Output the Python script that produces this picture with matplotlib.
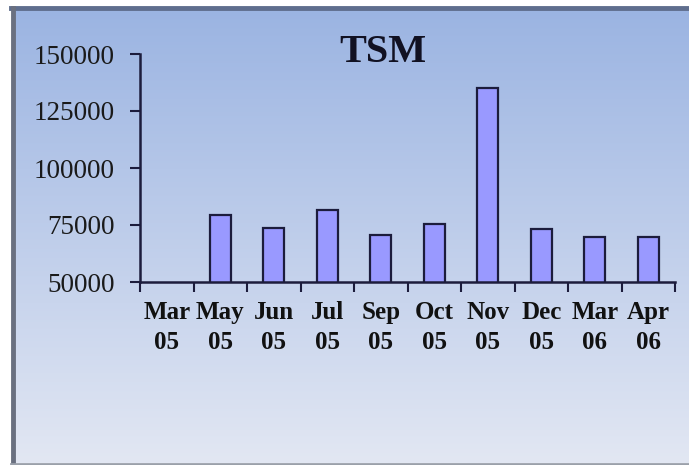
import matplotlib.pyplot as plt
import numpy as np

months = ["Mar\n05", "May\n05", "Jun\n05", "Jul\n05", "Sep\n05",
          "Oct\n05", "Nov\n05", "Dec\n05", "Mar\n06", "Apr\n06"]
values = [np.nan, 79400, 73500, 81600, 70600, 75300, 135000, 73200, 69900, 69900]
yticks = [50000, 75000, 100000, 125000, 150000]

plt.rcParams['font.family'] = ['Liberation Serif', 'DejaVu Serif']

fig = plt.figure(figsize=(6.89, 4.65), dpi=100, facecolor='white')

# gradient panel behind the chart
bg = fig.add_axes([15/689, 2/465, 674/689, 453/465])
top = np.array([155, 180, 226]) / 255
bot = np.array([226, 231, 243]) / 255
t = np.linspace(0, 1, 256)[:, None]
grad = top * (1 - t) + bot * t
bg.imshow(grad[:, None, :], aspect='auto', extent=[0, 1, 0, 1])
bg.set_axis_off()

# panel borders
fig.add_artist(plt.Line2D([11/689, 1], [1 - 8/465, 1 - 8/465], color='#5f6e8e', lw=3.5))
fig.add_artist(plt.Line2D([13/689, 13/689], [1/465, 1 - 8/465], color='#6a7080', lw=3.5))
fig.add_artist(plt.Line2D([11/689, 1], [1.5/465, 1.5/465], color='#9aa0aa', lw=2))

ax = fig.add_axes([140/689, 1 - 282/465, 535/689, 228/465])
ax.patch.set_alpha(0)
x = np.arange(len(months))
ax.bar(x, values, width=0.4, color='#9999ff', edgecolor='#1c1c3c', linewidth=1.6)

ax.set_xlim(-0.5, len(months) - 0.5)
ax.set_ylim(50000, 150000)
ax.set_yticks(yticks)
ax.set_yticklabels([str(v) for v in yticks], fontsize=19.5, color='#1a1a1a')
ax.set_xticks(np.arange(-0.5, len(months), 1))
ax.set_xticklabels([])
ax.set_xticks(x, minor=True)
ax.set_xticklabels(months, minor=True, fontsize=18, fontweight='bold',
                   linespacing=1.35, color='#111111')
ax.tick_params(axis='x', which='minor', length=0, pad=14)
ax.tick_params(axis='x', which='major', length=7, width=1.5, color='#1c1c3c', direction='out')
ax.tick_params(axis='y', length=7, width=1.5, color='#1c1c3c', pad=11)

for s in ['top', 'right']:
    ax.spines[s].set_visible(False)
for s in ['left', 'bottom']:
    ax.spines[s].set_color('#1c1c3c')
    ax.spines[s].set_linewidth(1.8)

fig.text(383/689, 1 - 52/465, "TSM", fontsize=29, fontweight='bold',
         ha='center', va='center', color='#111122')

fig.savefig("out.png", dpi=100, facecolor='white')
